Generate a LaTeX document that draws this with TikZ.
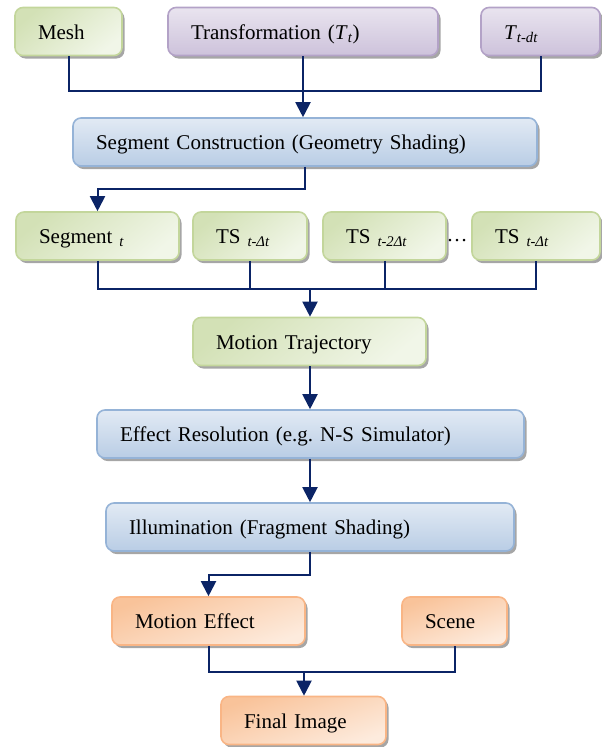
\documentclass[tikz,border=0pt]{standalone}
\usepackage{fontspec}
\setmainfont{Liberation Serif}
\usetikzlibrary{arrows.meta,shadows}
\definecolor{navy}{HTML}{0B2466}
\definecolor{gborder}{HTML}{C3D69B}
\definecolor{gdark}{HTML}{D3E1B6}
\definecolor{glight}{HTML}{F1F6E8}
\definecolor{pborder}{HTML}{B3A2C7}
\definecolor{pdark}{HTML}{CDC2DB}
\definecolor{plight}{HTML}{E9E4EF}
\definecolor{bborder}{HTML}{95B3D7}
\definecolor{bdark}{HTML}{B9CDE5}
\definecolor{blight}{HTML}{E2EAF4}
\definecolor{oborder}{HTML}{F9B585}
\definecolor{odark}{HTML}{F9C39A}
\definecolor{olight}{HTML}{FDEBDD}
\tikzset{
  basebox/.style={rounded corners=8pt, line width=1.6pt, inner xsep=23pt, inner ysep=0pt,
    minimum height=48pt, align=left, font=\fontsize{21}{24}\selectfont\frenchspacing,
    text height=18pt, text depth=3pt,
    drop shadow={shadow xshift=2.5pt, shadow yshift=-3pt, fill=black!35, opacity=1}},
  gbox/.style={basebox, draw=gborder, top color=gdark, bottom color=glight, shading angle=40},
  pbox/.style={basebox, draw=pborder, top color=plight, bottom color=pdark},
  bbox/.style={basebox, draw=bborder, top color=blight, bottom color=bdark},
  obox/.style={basebox, draw=oborder, top color=odark, bottom color=olight, shading angle=20},
  conn/.style={draw=navy, line width=2pt},
  arr/.style={conn, -{Triangle[length=15pt, width=15pt]}},
}
\newcommand{\sbs}[1]{\textsubscript{\textit{#1}}}
\begin{document}
\begin{tikzpicture}[x=1pt, y=-1pt]
\useasboundingbox (0,0) rectangle (602,747);
% row 1
\node[gbox, text width=61pt] (mesh) at (68.5,31.5) {Mesh};
\node[pbox, text width=224pt] (trans) at (303,31.5) {Transformation (\textit{T}\sbs{t})};
\node[pbox, text width=73pt] (tdt) at (540.5,31.5) {\textit{T}\sbs{t-dt}};
% segment construction
\node[bbox, text width=418pt] (segc) at (305,142) {Segment Construction (Geometry Shading)};
% row 2
\node[gbox, text width=117pt] (segt) at (97.5,236) {Segment \sbs{t}};
\node[gbox, text width=68pt] (ts1) at (250,236) {TS \sbs{t-Δt}};
\node[gbox, text width=77pt] (ts2) at (384.5,236) {TS \sbs{t-2Δt}};
\node[font=\fontsize{21}{24}\selectfont, inner sep=0pt] (dots) at (457,241) {…};
\node[gbox, text width=82pt] (ts3) at (536,236) {TS \sbs{t-Δt}};
% pipeline
\node[gbox, text width=187pt] (mt) at (309.5,341.5) {Motion Trajectory};
\node[bbox, text width=381pt] (er) at (310.5,434) {Effect Resolution (e.g. N-S Simulator)};
\node[bbox, text width=362pt] (il) at (310,527) {Illumination (Fragment Shading)};
\node[obox, text width=147pt] (me) at (208.5,621) {Motion Effect};
\node[obox, text width=59pt] (sc) at (454.5,621) {Scene};
\node[obox, text width=119pt] (fi) at (303.5,720.5) {Final Image};
% connectors
\coordinate (j1) at (303,91);
\draw[conn] (mesh.south) |- (j1) -| (tdt.south);
\draw[arr] (trans.south) -- (trans.south |- segc.north);
\draw[arr] (segc.south) -- ++(0,22) -| (segt.north);
\coordinate (j2) at (310,289);
\draw[conn] (segt.south) |- (j2) -| (ts3.south);
\draw[conn] (ts1.south) -- (ts1.south |- j2);
\draw[conn] (ts2.south) -- (ts2.south |- j2);
\draw[arr] (j2) -- (j2 |- mt.north);
\draw[arr] (mt.south -| j2) -- (j2 |- er.north);
\draw[arr] (er.south -| j2) -- (j2 |- il.north);
\draw[arr] (il.south) -- ++(0,23) -| (me.north);
\coordinate (j3) at (304,672);
\draw[conn] (me.south) |- (j3) -| (sc.south);
\draw[arr] (j3) -- (j3 |- fi.north);
\end{tikzpicture}
\end{document}
